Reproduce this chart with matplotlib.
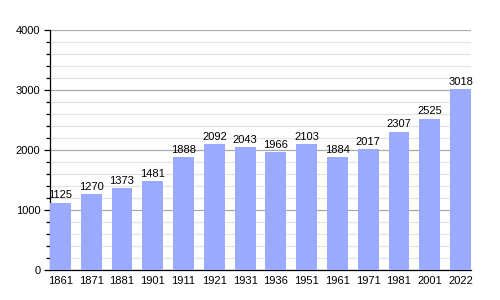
import matplotlib
matplotlib.use('Agg')
import matplotlib.pyplot as plt
import numpy as np
from matplotlib.ticker import MultipleLocator

years = ['1861', '1871', '1881', '1901', '1911', '1921', '1931',
         '1936', '1951', '1961', '1971', '1981', '2001', '2022']
population = [1125, 1270, 1373, 1481, 1888, 2092, 2043,
              1966, 2103, 1884, 2017, 2307, 2525, 3018]

plt.rcParams['font.family'] = ['Liberation Sans', 'DejaVu Sans']

x = np.arange(len(years))
width = 0.68

fig = plt.figure(figsize=(5, 3), dpi=100)
ax = fig.add_axes([0.1, 0.1, 0.842, 0.8])

bars = ax.bar(x, population, width, color='#99aaff', zorder=3)
ax.bar_label(bars, padding=1.5, fontsize=8, zorder=4)

ax.set_xlim(-width / 2, len(years) - 1 + width / 2)
ax.set_ylim(0, 4000)
ax.set_xticks(x)
ax.set_xticklabels(years)
ax.yaxis.set_major_locator(MultipleLocator(1000))
ax.yaxis.set_minor_locator(MultipleLocator(200))

ax.grid(axis='y', which='major', color='#aaaaaa', linewidth=0.9, zorder=0)
ax.grid(axis='y', which='minor', color='#e4e4e4', linewidth=0.9, zorder=0)
ax.set_axisbelow(True)

for side in ['top', 'right']:
    ax.spines[side].set_visible(False)
ax.spines['left'].set_linewidth(0.9)
ax.spines['bottom'].set_linewidth(0.9)

ax.tick_params(axis='x', length=0, labelsize=8, pad=4)
ax.tick_params(axis='y', which='major', length=4, width=0.9, labelsize=8, pad=3)
ax.tick_params(axis='y', which='minor', length=3, width=0.9)

fig.savefig('out.png', dpi=100)
